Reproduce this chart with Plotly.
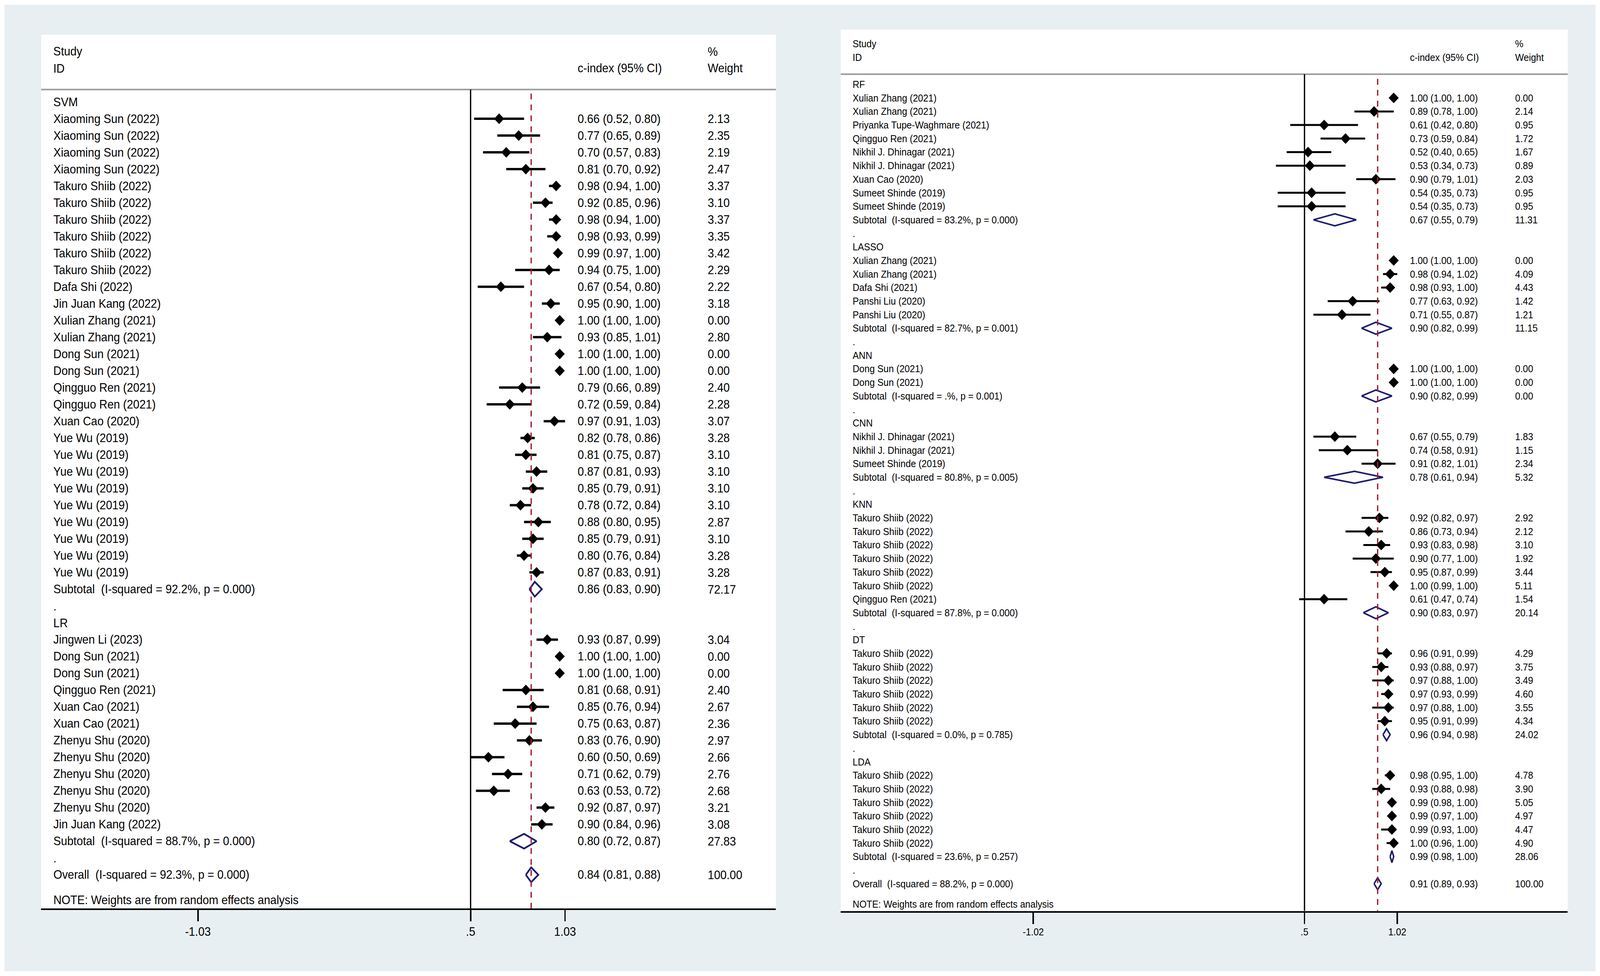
import plotly.graph_objects as go

# ---------------- data: left panel ----------------
SVM = [
    ("Xiaoming Sun (2022)", 0.66, 0.52, 0.80, 2.13),
    ("Xiaoming Sun (2022)", 0.77, 0.65, 0.89, 2.35),
    ("Xiaoming Sun (2022)", 0.70, 0.57, 0.83, 2.19),
    ("Xiaoming Sun (2022)", 0.81, 0.70, 0.92, 2.47),
    ("Takuro Shiib (2022)", 0.98, 0.94, 1.00, 3.37),
    ("Takuro Shiib (2022)", 0.92, 0.85, 0.96, 3.10),
    ("Takuro Shiib (2022)", 0.98, 0.94, 1.00, 3.37),
    ("Takuro Shiib (2022)", 0.98, 0.93, 0.99, 3.35),
    ("Takuro Shiib (2022)", 0.99, 0.97, 1.00, 3.42),
    ("Takuro Shiib (2022)", 0.94, 0.75, 1.00, 2.29),
    ("Dafa Shi (2022)", 0.67, 0.54, 0.80, 2.22),
    ("Jin Juan Kang (2022)", 0.95, 0.90, 1.00, 3.18),
    ("Xulian Zhang (2021)", 1.00, 1.00, 1.00, 0.00),
    ("Xulian Zhang (2021)", 0.93, 0.85, 1.01, 2.80),
    ("Dong Sun (2021)", 1.00, 1.00, 1.00, 0.00),
    ("Dong Sun (2021)", 1.00, 1.00, 1.00, 0.00),
    ("Qingguo Ren (2021)", 0.79, 0.66, 0.89, 2.40),
    ("Qingguo Ren (2021)", 0.72, 0.59, 0.84, 2.28),
    ("Xuan Cao (2020)", 0.97, 0.91, 1.03, 3.07),
    ("Yue Wu (2019)", 0.82, 0.78, 0.86, 3.28),
    ("Yue Wu (2019)", 0.81, 0.75, 0.87, 3.10),
    ("Yue Wu (2019)", 0.87, 0.81, 0.93, 3.10),
    ("Yue Wu (2019)", 0.85, 0.79, 0.91, 3.10),
    ("Yue Wu (2019)", 0.78, 0.72, 0.84, 3.10),
    ("Yue Wu (2019)", 0.88, 0.80, 0.95, 2.87),
    ("Yue Wu (2019)", 0.85, 0.79, 0.91, 3.10),
    ("Yue Wu (2019)", 0.80, 0.76, 0.84, 3.28),
    ("Yue Wu (2019)", 0.87, 0.83, 0.91, 3.28),
]
SVM_SUB = ("I-squared = 92.2%, p = 0.000", 0.86, 0.83, 0.90, 72.17)

LR = [
    ("Jingwen Li (2023)", 0.93, 0.87, 0.99, 3.04),
    ("Dong Sun (2021)", 1.00, 1.00, 1.00, 0.00),
    ("Dong Sun (2021)", 1.00, 1.00, 1.00, 0.00),
    ("Qingguo Ren (2021)", 0.81, 0.68, 0.91, 2.40),
    ("Xuan Cao (2021)", 0.85, 0.76, 0.94, 2.67),
    ("Xuan Cao (2021)", 0.75, 0.63, 0.87, 2.36),
    ("Zhenyu Shu (2020)", 0.83, 0.76, 0.90, 2.97),
    ("Zhenyu Shu (2020)", 0.60, 0.50, 0.69, 2.66),
    ("Zhenyu Shu (2020)", 0.71, 0.62, 0.79, 2.76),
    ("Zhenyu Shu (2020)", 0.63, 0.53, 0.72, 2.68),
    ("Zhenyu Shu (2020)", 0.92, 0.87, 0.97, 3.21),
    ("Jin Juan Kang (2022)", 0.90, 0.84, 0.96, 3.08),
]
LR_SUB = ("I-squared = 88.7%, p = 0.000", 0.80, 0.72, 0.87, 27.83)

LEFT_OVERALL = ("I-squared = 92.3%, p = 0.000", 0.84, 0.81, 0.88, 100.00)
LEFT_TICKS = [-1.03, 0.5, 1.03]
LEFT_TICKTEXT = ["-1.03", ".5", "1.03"]

# ---------------- data: right panel ----------------
RF = [
    ("Xulian Zhang (2021)", 1.00, 1.00, 1.00, 0.00),
    ("Xulian Zhang (2021)", 0.89, 0.78, 1.00, 2.14),
    ("Priyanka Tupe-Waghmare (2021)", 0.61, 0.42, 0.80, 0.95),
    ("Qingguo Ren (2021)", 0.73, 0.59, 0.84, 1.72),
    ("Nikhil J. Dhinagar (2021)", 0.52, 0.40, 0.65, 1.67),
    ("Nikhil J. Dhinagar (2021)", 0.53, 0.34, 0.73, 0.89),
    ("Xuan Cao (2020)", 0.90, 0.79, 1.01, 2.03),
    ("Sumeet Shinde (2019)", 0.54, 0.35, 0.73, 0.95),
    ("Sumeet Shinde (2019)", 0.54, 0.35, 0.73, 0.95),
]
RF_SUB = ("I-squared = 83.2%, p = 0.000", 0.67, 0.55, 0.79, 11.31)

LASSO = [
    ("Xulian Zhang (2021)", 1.00, 1.00, 1.00, 0.00),
    ("Xulian Zhang (2021)", 0.98, 0.94, 1.02, 4.09),
    ("Dafa Shi (2021)", 0.98, 0.93, 1.00, 4.43),
    ("Panshi Liu (2020)", 0.77, 0.63, 0.92, 1.42),
    ("Panshi Liu (2020)", 0.71, 0.55, 0.87, 1.21),
]
LASSO_SUB = ("I-squared = 82.7%, p = 0.001", 0.90, 0.82, 0.99, 11.15)

ANN = [
    ("Dong Sun (2021)", 1.00, 1.00, 1.00, 0.00),
    ("Dong Sun (2021)", 1.00, 1.00, 1.00, 0.00),
]
ANN_SUB = ("I-squared = .%, p = 0.001", 0.90, 0.82, 0.99, 0.00)

CNN = [
    ("Nikhil J. Dhinagar (2021)", 0.67, 0.55, 0.79, 1.83),
    ("Nikhil J. Dhinagar (2021)", 0.74, 0.58, 0.91, 1.15),
    ("Sumeet Shinde (2019)", 0.91, 0.82, 1.01, 2.34),
]
CNN_SUB = ("I-squared = 80.8%, p = 0.005", 0.78, 0.61, 0.94, 5.32)

KNN = [
    ("Takuro Shiib (2022)", 0.92, 0.82, 0.97, 2.92),
    ("Takuro Shiib (2022)", 0.86, 0.73, 0.94, 2.12),
    ("Takuro Shiib (2022)", 0.93, 0.83, 0.98, 3.10),
    ("Takuro Shiib (2022)", 0.90, 0.77, 1.00, 1.92),
    ("Takuro Shiib (2022)", 0.95, 0.87, 0.99, 3.44),
    ("Takuro Shiib (2022)", 1.00, 0.99, 1.00, 5.11),
    ("Qingguo Ren (2021)", 0.61, 0.47, 0.74, 1.54),
]
KNN_SUB = ("I-squared = 87.8%, p = 0.000", 0.90, 0.83, 0.97, 20.14)

DT = [
    ("Takuro Shiib (2022)", 0.96, 0.91, 0.99, 4.29),
    ("Takuro Shiib (2022)", 0.93, 0.88, 0.97, 3.75),
    ("Takuro Shiib (2022)", 0.97, 0.88, 1.00, 3.49),
    ("Takuro Shiib (2022)", 0.97, 0.93, 0.99, 4.60),
    ("Takuro Shiib (2022)", 0.97, 0.88, 1.00, 3.55),
    ("Takuro Shiib (2022)", 0.95, 0.91, 0.99, 4.34),
]
DT_SUB = ("I-squared = 0.0%, p = 0.785", 0.96, 0.94, 0.98, 24.02)

LDA = [
    ("Takuro Shiib (2022)", 0.98, 0.95, 1.00, 4.78),
    ("Takuro Shiib (2022)", 0.93, 0.88, 0.98, 3.90),
    ("Takuro Shiib (2022)", 0.99, 0.98, 1.00, 5.05),
    ("Takuro Shiib (2022)", 0.99, 0.97, 1.00, 4.97),
    ("Takuro Shiib (2022)", 0.99, 0.93, 1.00, 4.47),
    ("Takuro Shiib (2022)", 1.00, 0.96, 1.00, 4.90),
]
LDA_SUB = ("I-squared = 23.6%, p = 0.257", 0.99, 0.98, 1.00, 28.06)

RIGHT_OVERALL = ("I-squared = 88.2%, p = 0.000", 0.91, 0.89, 0.93, 100.00)
RIGHT_TICKS = [-1.02, 0.5, 1.02]
RIGHT_TICKTEXT = ["-1.02", ".5", "1.02"]

NOTE = "NOTE: Weights are from random effects analysis"

# ---------------- page geometry (pixels) ----------------
W, H = 4318, 2499
FONT = "Liberation Sans, Arial, sans-serif"
NAVY = "#1c1c70"
DARKRED = "#9e1b30"
NBSP = "\u00a0"


def build_rows(groups, overall):
    rows = []
    for i, (name, studies, sub) in enumerate(groups):
        if i:
            rows.append(("dot", "."))
        rows.append(("group", name))
        for s in studies:
            rows.append(("study",) + s)
        rows.append(("sub", "Subtotal" + NBSP * 2 + "(" + sub[0] + ")") + sub[1:])
    rows.append(("dot", "."))
    rows.append(("sub", "Overall" + NBSP * 2 + "(" + overall[0] + ")") + overall[1:])
    return rows


panels = [
    dict(
        rows=build_rows([("SVM", SVM, SVM_SUB), ("LR", LR, LR_SUB)], LEFT_OVERALL),
        overall=LEFT_OVERALL[1], ticks=LEFT_TICKS, ticktext=LEFT_TICKTEXT,
        px=(111, 2094), py=(89, 2326), scale=481.0, null_px=1270.0,
        row0=261.0, step=43.02, fs=30.5, ci_w=6, sub_w=4.5, msize=21,
        col_label=142, col_ci=1557, col_wt=1908, head=(-3.0, -2.0),
        note_row=47.5, sep_row=-0.74, dash_row=-0.5,
    ),
    dict(
        rows=build_rows([("RF", RF, RF_SUB), ("LASSO", LASSO, LASSO_SUB),
                         ("ANN", ANN, ANN_SUB), ("CNN", CNN, CNN_SUB),
                         ("KNN", KNN, KNN_SUB), ("DT", DT, DT_SUB),
                         ("LDA", LDA, LDA_SUB)], RIGHT_OVERALL),
        overall=RIGHT_OVERALL[1], ticks=RIGHT_TICKS, ticktext=RIGHT_TICKTEXT,
        px=(2269, 4231), py=(76, 2332.5), scale=481.5, null_px=3520.5,
        row0=216.0, step=34.69, fs=25, ci_w=5, sub_w=4, msize=21,
        col_label=2299, col_ci=3803, col_wt=4087, head=(-3.0, -2.0),
        note_row=60.5, sep_row=-0.75, dash_row=-0.4,
    ),
]

fig = go.Figure()
annotations = []
shapes = [
    dict(type="rect", xref="paper", yref="paper", x0=12 / W, x1=1 - 12 / W,
         y0=12 / H, y1=1 - 12 / H, fillcolor="#e8eff2", line_width=0, layer="below"),
]
layout_axes = {}

for k, p in enumerate(panels):
    sfx = "" if k == 0 else str(k + 1)
    xa, ya = "x" + sfx, "y" + sfx
    x_lo = 0.5 + (p["px"][0] - p["null_px"]) / p["scale"]
    x_hi = 0.5 + (p["px"][1] - p["null_px"]) / p["scale"]
    y_top = (p["py"][0] - p["row0"]) / p["step"]
    y_bot = (p["py"][1] - p["row0"]) / p["step"]
    pw = p["px"][1] - p["px"][0]

    def fx(px_abs):
        return (px_abs - p["px"][0]) / pw

    ci_x, ci_y, m_x, m_y, d_x, d_y = [], [], [], [], [], []
    for r, row in enumerate(p["rows"]):
        kind, label = row[0], row[1]
        annotations.append(dict(text=label, xref=xa + " domain", yref=ya,
                                x=fx(p["col_label"]), y=r))
        if kind in ("study", "sub"):
            est, lo, hi, wt = row[2:]
            annotations.append(dict(text=f"{est:.2f} ({lo:.2f}, {hi:.2f})",
                                    xref=xa + " domain", yref=ya, x=fx(p["col_ci"]), y=r))
            annotations.append(dict(text=f"{wt:.2f}", xref=xa + " domain", yref=ya,
                                    x=fx(p["col_wt"]), y=r))
        if kind == "study":
            if hi > lo:
                ci_x += [lo, hi, None]
                ci_y += [r, r, None]
            m_x.append(est)
            m_y.append(r)
        elif kind == "sub":
            h = 0.44
            d_x += [lo, est, hi, est, lo, None]
            d_y += [r, r - h, r, r + h, r, None]

    fig.add_trace(go.Scatter(x=ci_x, y=ci_y, mode="lines", xaxis=xa, yaxis=ya,
                             line=dict(color="black", width=p["ci_w"]),
                             hoverinfo="skip", showlegend=False))
    fig.add_trace(go.Scatter(x=m_x, y=m_y, mode="markers", xaxis=xa, yaxis=ya,
                             marker=dict(symbol="diamond", size=p["msize"], color="black",
                                         line_width=0),
                             hoverinfo="skip", showlegend=False))
    fig.add_trace(go.Scatter(x=d_x, y=d_y, mode="lines", xaxis=xa, yaxis=ya,
                             line=dict(color=NAVY, width=p["sub_w"]),
                             hoverinfo="skip", showlegend=False))

    # headers
    h1, h2 = p["head"]
    for txt, col, rr in [("Study", p["col_label"], h1), ("ID", p["col_label"], h2),
                         ("c-index (95% CI)", p["col_ci"], h2),
                         ("%", p["col_wt"], h1), ("Weight", p["col_wt"], h2)]:
        annotations.append(dict(text=txt, xref=xa + " domain", yref=ya, x=fx(col), y=rr))
    annotations.append(dict(text=NOTE, xref=xa + " domain", yref=ya,
                            x=fx(p["col_label"]), y=p["note_row"]))
    for a in annotations:
        if "font" not in a:
            a.update(showarrow=False, xanchor="left", yanchor="middle",
                     font=dict(family=FONT, size=p["fs"], color="black"))

    # white panel, header rule, null line, overall line
    shapes += [
        dict(type="rect", xref=xa + " domain", yref=ya + " domain", x0=0, x1=1, y0=0, y1=1,
             fillcolor="white", line_width=0, layer="below"),
        dict(type="line", xref=xa + " domain", yref=ya, x0=0, x1=1,
             y0=p["sep_row"], y1=p["sep_row"], line=dict(color="#9c9c9c", width=4)),
        dict(type="line", xref=xa, yref=ya, x0=0.5, x1=0.5, y0=p["sep_row"], y1=y_bot,
             line=dict(color="black", width=3.5)),
        dict(type="line", xref=xa, yref=ya, x0=p["overall"], x1=p["overall"],
             y0=p["dash_row"], y1=y_bot, line=dict(color=DARKRED, width=3.5, dash="15px,13px")),
    ]

    layout_axes["xaxis" + sfx] = dict(
        domain=[p["px"][0] / W, p["px"][1] / W], range=[x_lo, x_hi], anchor=ya,
        showgrid=False, zeroline=False, showline=True, linecolor="black", linewidth=4,
        ticks="outside", ticklen=29, tickwidth=4, tickcolor="black",
        tickvals=p["ticks"], ticktext=p["ticktext"],
        tickfont=dict(family=FONT, size=p["fs"], color="black"), fixedrange=True,
    )
    layout_axes["yaxis" + sfx] = dict(
        domain=[1 - p["py"][1] / H, 1 - p["py"][0] / H], range=[y_bot, y_top], anchor=xa,
        visible=False, fixedrange=True,
    )

fig.update_layout(
    width=W, height=H, margin=dict(l=0, r=0, t=0, b=0),
    paper_bgcolor="white", plot_bgcolor="rgba(0,0,0,0)",
    showlegend=False, annotations=annotations, shapes=shapes, **layout_axes,
)

# stretch the fixed-size figure so it fills the viewport the page is opened in
fit_js = """
document.documentElement.style.margin = '0';
document.body.style.margin = '0';
document.body.style.overflow = 'hidden';
var gd = document.getElementById('{plot_id}');
var sx = window.innerWidth / %d, sy = window.innerHeight / %d;
gd.style.transformOrigin = '0 0';
gd.style.transform = 'scale(' + sx + ',' + sy + ')';
gd.parentElement.style.width = window.innerWidth + 'px';
gd.parentElement.style.height = window.innerHeight + 'px';
gd.parentElement.style.overflow = 'hidden';
""" % (W, H)

fig.write_html("out.html", post_script=fit_js, config={"displayModeBar": False})
